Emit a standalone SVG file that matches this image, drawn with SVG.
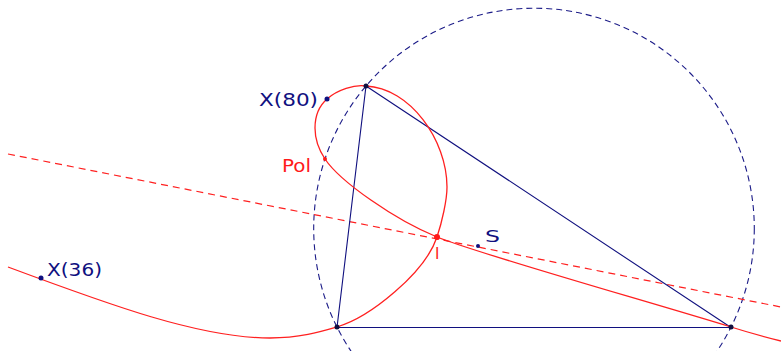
<svg xmlns="http://www.w3.org/2000/svg" width="781" height="351" viewBox="0 0 781 351">
<style>
.navy{stroke:#10107f;fill:none;stroke-width:1.1}
.circ{stroke:#1c1c88;fill:none;stroke-width:1.1;stroke-dasharray:6 4}
.red{stroke:#ff2020;fill:none;stroke-width:1.3}
.rdash{stroke:#ff2020;fill:none;stroke-width:1.2;stroke-dasharray:7 5}
.lblb{font-family:"DejaVu Sans",sans-serif;font-size:18px;fill:#10107f}
.lblr{font-family:"DejaVu Sans",sans-serif;font-size:18px;fill:#ff1a1a}
.vtx{fill:#101040}
</style>
<rect width="781" height="351" fill="#ffffff"/>
<g id="connectors">
<circle class="circ" cx="534" cy="228.5" r="220.3"/>
<line class="rdash" x1="8" y1="154" x2="781" y2="307"/>
<path class="navy" d="M337,327.5 L731,327.5 L366,86 Z"/>
<path class="red" d="M8,267 C110,305 200,338 270,338 C300,338 320,332 337,327 C370,317.3 425,273 437,237 C442,222 447,200 447,187 C447,140 410,88 366,86 C355,84 337,90 327,99 C319,106 315,117 315,128 C315,140 319,150 325,159 C340,181.5 395,220 437,237 C480,254.4 650,302 731,327 C750,333 765,337 781,341"/>
</g>
<g id="A"><circle class="vtx" cx="337" cy="327" r="2.5"/></g>
<g id="B"><circle class="vtx" cx="731" cy="327" r="2.5"/></g>
<g id="C"><circle class="vtx" cx="366" cy="86" r="2.5"/></g>
<g id="X80"><circle cx="327" cy="99" r="2.5" fill="#10107f"/><text class="lblb" x="259" y="106" textLength="59" lengthAdjust="spacingAndGlyphs">X(80)</text></g>
<g id="Pol"><circle cx="325" cy="159" r="2" fill="#ff1a1a"/><text class="lblr" x="282" y="172" textLength="29" lengthAdjust="spacingAndGlyphs">Pol</text></g>
<g id="I"><circle cx="437" cy="237" r="3" fill="#ff1a1a"/><text class="lblr" x="435" y="259" style="font-size:15px">I</text></g>
<g id="S"><circle cx="478" cy="246" r="2" fill="#10107f"/><text class="lblb" x="485" y="242" style="font-size:15px" textLength="15" lengthAdjust="spacingAndGlyphs">S</text></g>
<g id="X36"><circle cx="41" cy="278" r="2.5" fill="#10107f"/><text class="lblb" x="47" y="276" textLength="55" lengthAdjust="spacingAndGlyphs">X(36)</text></g>
</svg>
